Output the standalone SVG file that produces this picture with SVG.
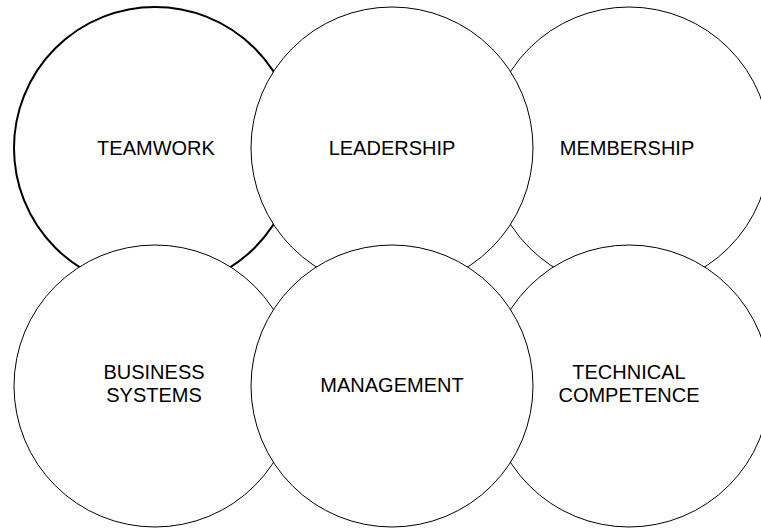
<svg xmlns="http://www.w3.org/2000/svg" width="761" height="529" viewBox="0 0 761 529">
  <style>
    .ring { fill: #ffffff; stroke: #000000; stroke-width: 1; }
    .ring.bold { stroke-width: 2; }
    .label { font-family: "Liberation Sans", Arial, sans-serif; font-size: 20px; fill: #000000; text-anchor: middle; }
  </style>
  <rect width="761" height="529" fill="#ffffff"/>
  <!-- top row -->
  <g id="teamwork">
    <circle class="ring bold" cx="155" cy="148" r="141"/>
    <text class="label" x="156" y="155">TEAMWORK</text>
  </g>
  <g id="membership">
    <circle class="ring" cx="629" cy="148" r="141"/>
    <text class="label" x="627" y="155">MEMBERSHIP</text>
  </g>
  <g id="leadership">
    <circle class="ring" cx="392" cy="148" r="141"/>
    <text class="label" x="392" y="155">LEADERSHIP</text>
  </g>
  <!-- bottom row -->
  <g id="business-systems">
    <circle class="ring" cx="155" cy="386" r="141"/>
    <text class="label" x="154" y="379">BUSINESS</text>
    <text class="label" x="154" y="402">SYSTEMS</text>
  </g>
  <g id="technical-competence">
    <circle class="ring" cx="629" cy="386" r="141"/>
    <text class="label" x="629" y="379">TECHNICAL</text>
    <text class="label" x="629" y="402">COMPETENCE</text>
  </g>
  <g id="management">
    <circle class="ring" cx="392" cy="386" r="141"/>
    <text class="label" x="392" y="392">MANAGEMENT</text>
  </g>
  <g id="connectors"/>
</svg>
